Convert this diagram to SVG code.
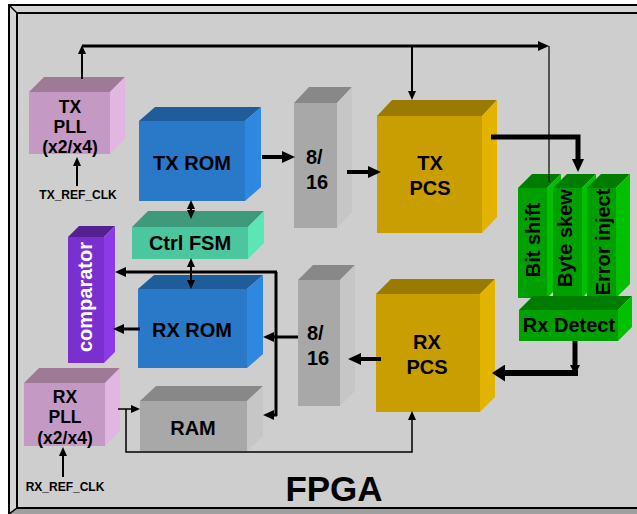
<svg xmlns="http://www.w3.org/2000/svg" width="637" height="514" viewBox="0 0 637 514">
<defs>
<style>
text{font-family:"Liberation Sans",Arial,sans-serif;font-weight:bold;fill:#000}
.t20{font-size:20px}
.t17{font-size:17.5px}
.t12{font-size:12px}
.mid{text-anchor:middle}
.wh{fill:#fff}
.ln{fill:none;stroke:#000;stroke-linejoin:miter}
.pf{fill:#c49ac4}.pt{fill:#9e7a96}.pr{fill:#e2b6e2}
.bf{fill:#2a78c8}.bt{fill:#1f5c9a}.br{fill:#2e88e0}
.gf{fill:#4cc69e}.gt{fill:#3e9a7a}.gr{fill:#5ce6b6}
.vf{fill:#7a2fd0}.vt{fill:#55208f}.vr{fill:#8b3ae6}
.sf{fill:#a8a8a8}.st{fill:#888888}.sr{fill:#c6c6c6}
.yf{fill:#c89e00}.yt{fill:#9a7a00}.yr{fill:#e2b400}
.ef{fill:#00a000}.et{fill:#007c00}.er{fill:#00c000}
</style>
<marker id="a1" markerUnits="userSpaceOnUse" viewBox="0 0 9 8" refX="6" refY="4" markerWidth="9" markerHeight="8" orient="auto-start-reverse"><path d="M0,0 L9,4 L0,8 z"/></marker>
<marker id="a2" markerUnits="userSpaceOnUse" viewBox="0 0 11 10" refX="7" refY="5" markerWidth="11" markerHeight="10" orient="auto-start-reverse"><path d="M0,0 L11,5 L0,10 z"/></marker>
<marker id="a3" markerUnits="userSpaceOnUse" viewBox="0 0 13 12" refX="7" refY="6" markerWidth="13" markerHeight="12" orient="auto"><path d="M0,0 L13,6 L0,12 z"/></marker>
<marker id="a4" markerUnits="userSpaceOnUse" viewBox="0 0 13 17" refX="7" refY="8.5" markerWidth="13" markerHeight="17" orient="auto"><path d="M0,0 L13,8.5 L0,17 z"/></marker>
<marker id="a5" markerUnits="userSpaceOnUse" viewBox="0 0 10 10" refX="4" refY="5" markerWidth="10" markerHeight="10" orient="auto"><path d="M0,0 L10,5 L0,10 z"/></marker>
</defs>
<rect width="637" height="514" fill="#fff"/>
<g id="frame">
<rect x="9" y="5" width="640" height="520" fill="#d4d4d4" stroke="#000" stroke-width="2"/>
<polygon points="9,514 17,508 650,508 650,520 9,520" fill="#a0a0a0"/>
<rect x="17" y="13" width="640" height="495" fill="#cecece" stroke="#000" stroke-width="2"/>
<line x1="9" y1="5" x2="17" y2="13" stroke="#000" stroke-width="1.5"/>
<line x1="9" y1="514" x2="17" y2="508" stroke="#000" stroke-width="1.5"/>
<text x="334" y="501" style="font-size:35px" class="mid">FPGA</text>
</g>
<g id="txpll"><rect class="pf" x="29" y="92" width="81" height="62"/><polygon class="pt" points="29,92 44,77 125,77 110,92"/><polygon class="pr" points="110,92 125,77 125,139 110,154"/>
<text class="t17 mid" x="70" y="113">TX</text><text class="t17 mid" x="70" y="133">PLL</text><text class="t17 mid" x="70" y="153">(x2/x4)</text></g>
<g id="txrom"><rect class="bf" x="139" y="121" width="106" height="80"/><polygon class="bt" points="139,121 155,107 261,107 245,121"/><polygon class="br" points="245,121 261,107 261,187 245,201"/>
<text class="t20 mid" x="192" y="170">TX ROM</text></g>
<g id="ctrlfsm"><rect class="gf" x="132" y="227" width="116" height="32"/><polygon class="gt" points="132,227 148,211 264,211 248,227"/><polygon class="gr" points="248,227 264,211 264,243 248,259"/>
<text class="t20 mid" x="190" y="250">Ctrl FSM</text></g>
<g id="comparator"><rect class="vf" x="68" y="237" width="36" height="126"/><polygon class="vt" points="68,237 79,226 115,226 104,237"/><polygon class="vr" points="104,237 115,226 115,352 104,363"/>
<text class="t20 mid wh" transform="translate(92,297) rotate(-90)">comparator</text></g>
<g id="rxrom"><rect class="bf" x="138" y="289" width="109" height="79"/><polygon class="bt" points="138,289 154,275 263,275 247,289"/><polygon class="br" points="247,289 263,275 263,354 247,368"/>
<text class="t20 mid" x="192" y="337">RX ROM</text></g>
<g id="rxpll"><rect class="pf" x="24" y="383" width="81" height="63"/><polygon class="pt" points="24,383 39,368 120,368 105,383"/><polygon class="pr" points="105,383 120,368 120,431 105,446"/>
<text class="t17 mid" x="65" y="403">RX</text><text class="t17 mid" x="65" y="423">PLL</text><text class="t17 mid" x="65" y="444">(x2/x4)</text></g>
<g id="ram"><rect class="sf" x="140" y="401" width="107" height="50"/><polygon class="st" points="140,401 156,386 263,386 247,401"/><polygon class="sr" points="247,401 263,386 263,436 247,451"/>
<text class="t20 mid" x="193" y="435">RAM</text></g>
<g id="txmux"><rect class="sf" x="294" y="103" width="43" height="125"/><polygon class="st" points="294,103 309,87 352,87 337,103"/><polygon class="sr" points="337,103 352,87 352,212 337,228"/>
<text class="t20" x="306" y="164">8/</text><text class="t20" x="306" y="189">16</text></g>
<g id="rxmux"><rect class="sf" x="298" y="280" width="42" height="126"/><polygon class="st" points="298,280 313,265 355,265 340,280"/><polygon class="sr" points="340,280 355,265 355,391 340,406"/>
<text class="t20" x="307" y="340">8/</text><text class="t20" x="307" y="365">16</text></g>
<g id="txpcs"><rect class="yf" x="377" y="116" width="105" height="117"/><polygon class="yt" points="377,116 392,100 497,100 482,116"/><polygon class="yr" points="482,116 497,100 497,217 482,233"/>
<text class="t20 mid" x="430" y="170">TX</text><text class="t20 mid" x="430" y="195">PCS</text></g>
<g id="rxpcs"><rect class="yf" x="376" y="294" width="104" height="118"/><polygon class="yt" points="376,294 391,279 495,279 480,294"/><polygon class="yr" points="480,294 495,279 495,397 480,412"/>
<text class="t20 mid" x="427" y="349">RX</text><text class="t20 mid" x="427" y="374">PCS</text></g>
<g id="bitshift"><rect class="ef" x="518" y="188" width="29" height="110"/><polygon class="et" points="518,188 532,174 561,174 547,188"/><polygon class="er" points="547,188 561,174 561,284 547,298"/>
<text class="t20 mid" transform="translate(540,240) rotate(-90)">Bit shift</text></g>
<g id="byteskew"><rect class="ef" x="553" y="188" width="29" height="110"/><polygon class="et" points="553,188 567,174 596,174 582,188"/><polygon class="er" points="582,188 596,174 596,284 582,298"/>
<text class="t20 mid" transform="translate(572,238) rotate(-90)">Byte skew</text></g>
<g id="errorinject"><rect class="ef" x="587" y="188" width="29" height="110"/><polygon class="et" points="587,188 601,174 630,174 616,188"/><polygon class="er" points="616,188 630,174 630,284 616,298"/>
<text class="t20 mid" transform="translate(610,242) rotate(-90)">Error inject</text></g>
<g id="rxdetect"><rect class="ef" x="519" y="310" width="99" height="31"/><polygon class="et" points="519,310 533,296 632,296 618,310"/><polygon class="er" points="618,310 632,296 632,327 618,341"/>
<text class="t20 mid" x="569" y="332">Rx Detect</text></g>
<g id="labels">
<text class="t12 mid" x="78" y="199">TX_REF_CLK</text>
<text class="t12 mid" x="65" y="491">RX_REF_CLK</text>
</g>
<g id="connectors">
<line class="ln" x1="82" y1="79" x2="82" y2="48" stroke-width="2" marker-end="url(#a1)"/>
<line class="ln" x1="82" y1="46" x2="545" y2="46" stroke-width="3" marker-end="url(#a2)"/>
<line class="ln" x1="412" y1="46" x2="412" y2="97" stroke-width="2" marker-end="url(#a1)"/>
<line class="ln" x1="549" y1="46" x2="549" y2="182" stroke-width="1.2"/>
<line class="ln" x1="77" y1="186" x2="77" y2="160" stroke-width="2" marker-end="url(#a1)"/>
<line class="ln" x1="262" y1="157" x2="289" y2="157" stroke-width="4" marker-end="url(#a3)"/>
<line class="ln" x1="347" y1="172" x2="375" y2="172" stroke-width="4" marker-end="url(#a3)"/>
<path class="ln" d="M491,137 L578,137 L578,166" stroke-width="5" marker-end="url(#a3)"/>
<line class="ln" x1="191" y1="203" x2="191" y2="216" stroke-width="2" marker-start="url(#a1)" marker-end="url(#a1)"/>
<line class="ln" x1="191" y1="261" x2="191" y2="286" stroke-width="2" marker-start="url(#a1)" marker-end="url(#a1)"/>
<line class="ln" x1="298" y1="337" x2="267" y2="337" stroke-width="3" marker-end="url(#a2)"/>
<line class="ln" x1="276" y1="272" x2="276" y2="416" stroke-width="3"/>
<line class="ln" x1="277" y1="272" x2="119" y2="272" stroke-width="3" marker-end="url(#a2)"/>
<line class="ln" x1="277" y1="415" x2="267" y2="415" stroke-width="3" marker-end="url(#a2)"/>
<line class="ln" x1="140" y1="329" x2="117" y2="329" stroke-width="3" marker-end="url(#a2)"/>
<line class="ln" x1="118" y1="409" x2="137" y2="409" stroke-width="1.5" marker-end="url(#a1)"/>
<path class="ln" d="M126,409 L126,452 L412,452 L412,414" stroke-width="1.5" marker-end="url(#a1)"/>
<line class="ln" x1="381" y1="359" x2="354" y2="359" stroke-width="4" marker-end="url(#a3)"/>
<line class="ln" x1="575" y1="341" x2="575" y2="369" stroke-width="5" marker-end="url(#a5)"/>
<line class="ln" x1="578" y1="373" x2="498" y2="373" stroke-width="6" marker-end="url(#a4)"/>
<line class="ln" x1="63" y1="477" x2="63" y2="450" stroke-width="2" marker-end="url(#a1)"/>
</g>
</svg>
